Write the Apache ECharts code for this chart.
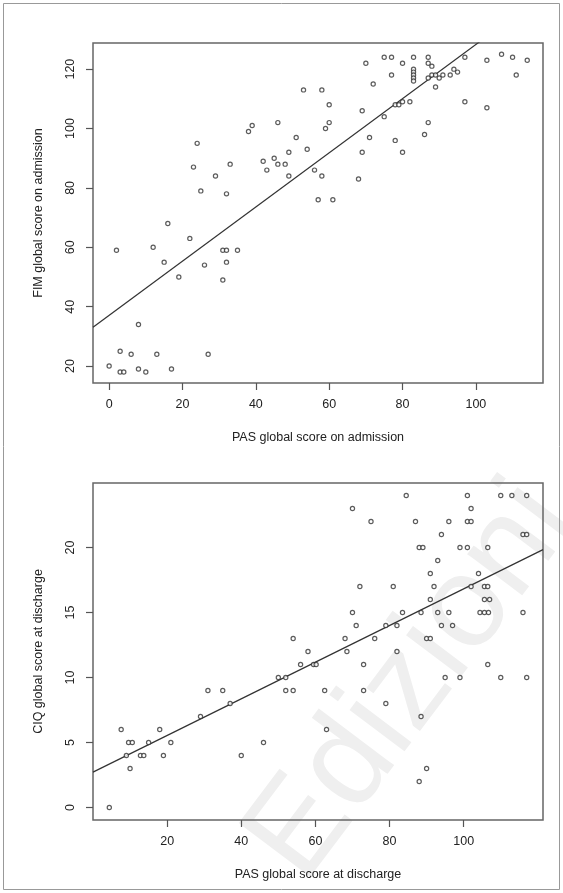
<!DOCTYPE html>
<html><head><meta charset="utf-8">
<script src="https://cdn.jsdelivr.net/npm/echarts@6/dist/echarts.min.js"></script>
<style>html,body{margin:0;padding:0;background:#fff}#c{width:563px;height:893px}</style>
</head><body><div id="c"></div><script>
// Top panel: PAS vs FIM on admission
const admissionPAS = [0,2,3,3,4,6,8,8,10,12,13,15,16,17,19,22,23,24,25,26,27,29,31,32,31,32,32,33,35,
 38,39,42,43,45,46,46,48,49,49,51,53,54,56,57,58,58,59,60,60,61,
 68,69,69,70,71,72,75,75,77,77,78,78,79,80,80,80,82,
 83,83,83,83,83,83,86,87,87,87,87,88,88,89,89,90,91,93,94,95,
 97,97,103,103,107,110,111,114];
const admissionFIM = [20,59,25,18,18,24,34,19,18,60,24,55,68,19,50,63,87,95,79,54,24,84,59,59,49,55,78,88,59,
 99,101,89,86,90,88,102,88,92,84,97,113,93,86,76,113,84,100,102,108,76,
 83,106,92,122,97,115,104,124,124,118,108,96,108,109,122,92,109,
 124,120,119,118,117,116,98,124,122,117,102,121,118,118,114,117,118,118,120,119,
 124,109,123,107,125,124,118,123];
// Bottom panel: PAS vs CIQ at discharge
const dischargePAS = [4.4,7.6,9,9.6,10,10.6,12.8,13.7,15,18,19,21,29,31,35,37,40,46,50,52,52,54,54,56,58,59.5,60.2,62.5,63,68,68.5,
 70,70,71,72,73,73,75,76,79,79,81,82,82,83.5,84.5,87,88,88,88.5,88.5,89,90,90,91,91,91,92,93,93,94,94,95,96,96,97,99,99,
 101,101,101,102,102,102,104,104.4,105.6,105.6,105.6,106.5,106.5,106.5,106.7,107,110,110,113,116,116,117,117,117];
const dischargeCIQ = [0,6,4,5,3,5,4,4,5,6,4,5,7,9,9,8,4,5,10,10,9,9,13,11,12,11,11,9,6,13,12,
 23,15,14,17,11,9,22,13,14,8,17,14,12,15,24,22,20,2,15,7,20,13,3,13,18,16,17,19,15,21,14,10,22,15,14,20,10,
 24,22,20,23,22,17,18,15,17,16,15,20,17,11,15,16,24,10,24,21,15,24,21,10];
// Regression lines (intercept, slope)
const admissionFit = [37.1, 0.912];
const dischargeFit = [2.72, 0.141];
// Axis ranges and tick labels
const topXRange = [-4.4, 118.3], topYRange = [14.3, 128.8];
const botXRange = [0, 121.4], botYRange = [-0.96, 24.96];
const topXTicks = [0,20,40,60,80,100];
const topYTicks = [20,40,60,80,100,120];
const botXTicks = [20,40,60,80,100];
const botYTicks = [0,5,10,15,20];

const FONT = 'Liberation Sans, Arial, Helvetica, sans-serif';
const TXT = '#222';
function pairs(a,b){ return a.map((v,i)=>[v,b[i]]); }
function fitLine(fit, range){ return range.map(x=>[x, fit[0]+fit[1]*x]); }
function xAx(gi, range, ticks, name){
  return {type:'value', gridIndex:gi, min:range[0], max:range[1], name:name, nameLocation:'middle', nameGap:48,
    nameTextStyle:{color:TXT, fontSize:12.5, fontFamily:FONT},
    axisLine:{show:false, onZero:false}, splitLine:{show:false},
    axisTick:{show:true, inside:false, length:7, lineStyle:{color:'#555', width:1.2}, customValues:ticks},
    axisLabel:{show:true, customValues:ticks, margin:15, color:TXT, fontSize:12.5, fontFamily:FONT}};
}
function yAx(gi, range, ticks, name){
  return {type:'value', gridIndex:gi, min:range[0], max:range[1], name:name, nameLocation:'middle', nameGap:48,
    nameTextStyle:{color:TXT, fontSize:12.5, fontFamily:FONT},
    axisLine:{show:false, onZero:false}, splitLine:{show:false},
    axisTick:{show:true, inside:false, length:7, lineStyle:{color:'#555', width:1.2}, customValues:ticks},
    axisLabel:{show:true, customValues:ticks, rotate:90, margin:16, color:TXT, fontSize:12.5, fontFamily:FONT}};
}
const sym = {symbol:'circle', symbolSize:4.2, itemStyle:{color:'#fff', borderColor:'#333', borderWidth:1.2}};
const chart = echarts.init(document.getElementById('c'), null, {renderer:'canvas'});
chart.setOption({
  animation:false, backgroundColor:'#fff',
  grid:[
    {left:93, top:43, width:450, height:340, show:true, borderColor:'#666', borderWidth:1.5, backgroundColor:'transparent', containLabel:false, outerBoundsMode:'none'},
    {left:93, top:483, width:450, height:337, show:true, borderColor:'#666', borderWidth:1.5, backgroundColor:'transparent', containLabel:false, outerBoundsMode:'none'}
  ],
  xAxis:[ xAx(0, topXRange, topXTicks, 'PAS global score on admission'), xAx(1, botXRange, botXTicks, 'PAS global score at discharge') ],
  yAxis:[ yAx(0, topYRange, topYTicks, 'FIM global score on admission'), yAx(1, botYRange, botYTicks, 'CIQ global score at discharge') ],
  graphic:[
    {type:'text', z:-10, x:412, y:682, rotation:53*Math.PI/180, style:{text:'Edizioni', font:'130px Liberation Sans, Arial', fill:'#efefef', textAlign:'center', textVerticalAlign:'middle', verticalAlign:'middle', align:'center'}},
    {type:'rect', z:-10, shape:{x:3.5, y:3.5, width:556, height:886}, style:{fill:'none', stroke:'#999', lineWidth:1}}
  ],
  series:[
    Object.assign({type:'scatter', xAxisIndex:0, yAxisIndex:0, data:pairs(admissionPAS, admissionFIM), z:3}, sym),
    {type:'line', xAxisIndex:0, yAxisIndex:0, data:fitLine(admissionFit, topXRange), showSymbol:false, symbol:'none', lineStyle:{color:'#333', width:1.2}, clip:true, z:2},
    Object.assign({type:'scatter', xAxisIndex:1, yAxisIndex:1, data:pairs(dischargePAS, dischargeCIQ), z:3}, sym),
    {type:'line', xAxisIndex:1, yAxisIndex:1, data:fitLine(dischargeFit, botXRange), showSymbol:false, symbol:'none', lineStyle:{color:'#333', width:1.2}, clip:true, z:2}
  ]
});
</script></body></html>
